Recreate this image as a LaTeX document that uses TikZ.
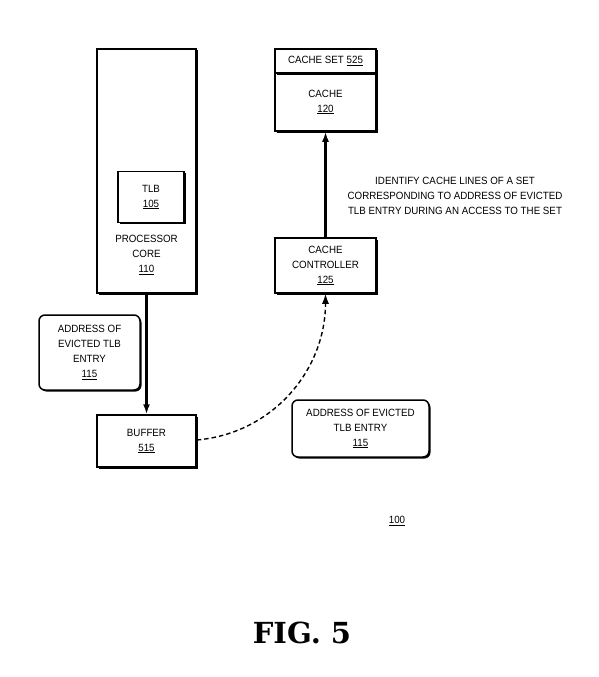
\documentclass[tikz,border=0pt]{standalone}
\usepackage{fontspec}
\setmainfont{Liberation Sans}[FakeStretch=0.93]
\newfontfamily\figfont{DejaVu Serif}
\usetikzlibrary{arrows.meta,shadows}

\tikzset{
  unit/.style={draw,line width=1.5pt,fill=white,align=center,
    inner sep=0pt,font=\fontsize{10.5}{15}\selectfont,
    drop shadow={shadow xshift=1.5pt,shadow yshift=-1.5pt,fill=black,opacity=1}},
  tag/.style={unit,rounded corners=6pt},
  note/.style={align=center,font=\fontsize{10.5}{15}\selectfont},
  arrowline/.style={draw,line width=2.2pt,-{Latex[length=10pt,width=7pt]}}
}

\begin{document}
\begin{tikzpicture}[x=1pt,y=-1pt]
      \useasboundingbox (0,0) rectangle (599,677);

      % processor side
      \node[unit,minimum width=99pt,minimum height=244pt] (core) at (146.5,171) {};
      \node[unit,minimum width=66pt,minimum height=51pt] (tlb) at (151,197)
        {TLB\\\underline{105}};
      \node[note] (corelbl) at (146.5,255) {PROCESSOR\\CORE\\\underline{110}};
      \node[unit,minimum width=99pt,minimum height=52pt] (buffer) at (146.5,441)
        {BUFFER\\\underline{515}};
      \node[tag,minimum width=101pt,minimum height=75pt] (addrA) at (89.5,352.5)
        {ADDRESS OF\\EVICTED TLB\\ENTRY\\\underline{115}};

      % cache side
      \node[unit,minimum width=101pt,minimum height=58pt] (cache) at (325.5,102)
        {CACHE\\\underline{120}};
      \node[unit,minimum width=101pt,minimum height=24pt] (cacheset) at (325.5,61)
        {CACHE SET \underline{525}};
      \node[unit,minimum width=101pt,minimum height=55pt] (ctrl) at (325.5,265.5)
        {CACHE\\CONTROLLER\\\underline{125}};
      \node[tag,minimum width=137pt,minimum height=57pt] (addrB) at (360.5,428.5)
        {ADDRESS OF EVICTED\\TLB ENTRY\\\underline{115}};

      \node[note] (identify) at (455,196)
        {IDENTIFY CACHE LINES OF A SET\\CORRESPONDING TO ADDRESS OF EVICTED\\TLB ENTRY DURING AN ACCESS TO THE SET};

      % connectors
      \path[arrowline] (core.south) -- (buffer.north);
      \path[arrowline] (ctrl.north) -- (cache.south);
      \path[arrowline,line width=1.4pt,dash pattern=on 4.5pt off 3pt]
        ([yshift=1pt]buffer.east) to[out=5,in=-90] (ctrl.south);

      \node[note] (ref) at (397,521) {\underline{100}};
      \node (fig) at (302,633) {\figfont\bfseries\fontsize{29}{30}\selectfont FIG. 5};
    \end{tikzpicture}
\end{document}
